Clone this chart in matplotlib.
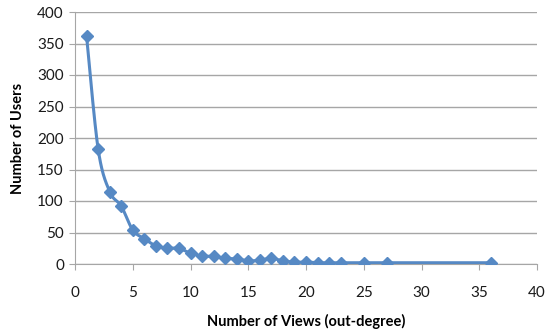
import numpy as np
import matplotlib.pyplot as plt

views = [1, 2, 3, 4, 5, 6, 7, 8, 9, 10, 11, 12, 13, 14, 15, 16, 17, 18, 19, 20,
         21, 22, 23, 25, 27, 36]
users = [362, 183, 115, 92, 54, 40, 29, 25, 25, 17, 13, 12, 9, 8, 5, 6, 9, 5, 3, 3,
         2, 2, 2, 2, 2, 2]

x_ticks = [0, 5, 10, 15, 20, 25, 30, 35, 40]
y_ticks = [0, 50, 100, 150, 200, 250, 300, 350, 400]


def smooth(x, y, n=30):
    # Catmull-Rom style curve through the points (like a spreadsheet "smoothed line")
    x = np.asarray(x, float)
    y = np.asarray(y, float)
    px = np.concatenate([[x[0]], x, [x[-1]]])
    py = np.concatenate([[y[0]], y, [y[-1]]])
    xs, ys = [], []
    t = np.linspace(0, 1, n)
    for i in range(1, len(px) - 2):
        p0, p1, p2, p3 = (np.array([px[j], py[j]]) for j in (i - 1, i, i + 1, i + 2))
        c1 = p1 + (p2 - p0) / 6
        c2 = p2 - (p3 - p1) / 6
        b = ((1 - t) ** 3)[:, None] * p1 + (3 * (1 - t) ** 2 * t)[:, None] * c1 \
            + (3 * (1 - t) * t ** 2)[:, None] * c2 + (t ** 3)[:, None] * p2
        xs.append(b[:, 0])
        ys.append(b[:, 1])
    return np.concatenate(xs), np.concatenate(ys)


plt.rcParams['font.family'] = ['Lato', 'DejaVu Sans']
blue = '#5689c4'
grid = '#a6a6a6'

fig = plt.figure(figsize=(5.47, 3.32), dpi=100)
ax = fig.add_axes([75 / 547, 68 / 332, 462 / 547, 252 / 332])

sx, sy = smooth(views, users)
ax.plot(sx, sy, color=blue, lw=2.2, zorder=3, solid_capstyle='round')
ax.plot(views, users, linestyle='none', marker='D', markersize=6.5, color=blue, zorder=4)

ax.set_xlim(0, 40)
ax.set_ylim(0, 400)
ax.set_xticks(x_ticks)
ax.set_yticks(y_ticks)
ax.yaxis.grid(True, color=grid, lw=1)
ax.set_axisbelow(True)
for s in ['top', 'right']:
    ax.spines[s].set_visible(False)
for s in ['left', 'bottom']:
    ax.spines[s].set_color(grid)
ax.tick_params(axis='both', colors=grid, labelcolor='#1a1a1a', labelsize=11,
               length=4, direction='out')
ax.tick_params(axis='y', pad=4)
ax.tick_params(axis='x', pad=12)

ax.set_xlabel('Number of Views (out-degree)', fontsize=10.5, fontweight='bold', labelpad=10)
ax.set_ylabel('Number of Users', fontsize=10.5, fontweight='bold', labelpad=9)

fig.savefig('out.png', dpi=100)
